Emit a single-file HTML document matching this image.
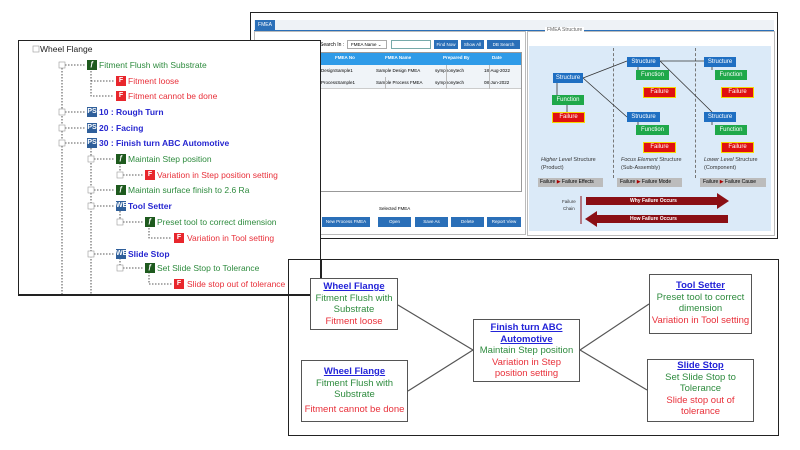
<!DOCTYPE html><html><head><meta charset="utf-8"><style>
*{margin:0;padding:0;box-sizing:border-box}
body{width:800px;height:450px;background:#fff;position:relative;overflow:hidden;font-family:"Liberation Sans",sans-serif}
.a{position:absolute;white-space:nowrap}
.t{font-size:8.5px;line-height:10px}
.g{color:#2e8b3e}.r{color:#e8303a}.b{color:#2626d0;font-weight:bold}
.ic{position:absolute;width:10px;height:10px;font-size:7px;color:#fff;text-align:center;line-height:10px;font-weight:bold}
.F{background:#e8262c}.P{background:#2f5f9a}.Fn{background:#1e5a1e}
.bt{position:absolute;background:#2a6fb8;color:#fff;font-size:4.5px;text-align:center;line-height:12px}
.sb{position:absolute;color:#fff;font-size:6px;text-align:center;line-height:10px}
.st{background:#1f6fc2}.fu{background:#1fa84a}.fa{background:#e01010;border:1.5px solid #f5d800;line-height:8px}
.nd{position:absolute;border:1.5px solid #555;background:#fff;text-align:center;font-size:9.5px;line-height:11.5px;white-space:nowrap;overflow:hidden}
.nd u{color:#2323d8;font-weight:bold}
</style></head><body>
<!-- top right app -->
<div class="a" style="left:250px;top:12px;width:528px;height:227px;border:1.5px solid #222;background:#fff"></div>
<div class="a" style="left:254px;top:20px;width:520px;height:11px;background:#eef2f6;border-bottom:1px solid #2a6fb8"></div>
<div class="a" style="left:255px;top:20px;width:20px;height:11px;background:#2a6fb8;color:#fff;font-size:5px;line-height:11px;text-align:center">FMEA</div>
<div class="a" style="left:254px;top:31px;width:272px;height:204px;border:1px solid #bbb"></div>
<div class="a" style="left:320px;top:42px;font-size:5px">Search In : </div>
<div class="a" style="left:347px;top:40px;width:40px;height:9px;border:1px solid #aaa;font-size:4.5px;line-height:8px;padding-left:3px">FMEA Name ⌄</div>
<div class="a" style="left:391px;top:40px;width:40px;height:9px;border:1px solid #7aa"></div>
<div class="bt" style="left:434px;top:40px;width:24px;height:9px;line-height:9px">Find Now</div>
<div class="bt" style="left:461px;top:40px;width:23px;height:9px;line-height:9px">Show All</div>
<div class="bt" style="left:487px;top:40px;width:33px;height:9px;line-height:9px">DB Search</div>
<div class="a" style="left:320px;top:52px;width:202px;height:13px;background:#2f9be8"></div>
<div class="a" style="left:320px;top:65px;width:202px;height:24px;background:#f0f4f8;border-bottom:1px solid #ccc"></div>
<div class="a" style="left:320px;top:52px;width:202px;height:140px;border:1px solid #999"></div>
<div class="a" style="left:320px;top:55px;font-size:4.5px;color:#fff;font-weight:bold;width:202px">
<span class="a" style="left:15px">FMEA No</span><span class="a" style="left:65px">FMEA Name</span><span class="a" style="left:123px">Prepared By</span><span class="a" style="left:172px">Date</span></div>
<div class="a" style="left:320px;top:68px;font-size:4.5px;width:202px"><span class="a" style="left:1px">DesignSample1</span><span class="a" style="left:56px">Sample Design FMEA</span><span class="a" style="left:115px">symphonytech</span><span class="a" style="left:164px">18-Aug-2022</span></div>
<div class="a" style="left:320px;top:80px;font-size:4.5px;width:202px"><span class="a" style="left:1px">ProcessSample1</span><span class="a" style="left:56px">Sample Process FMEA</span><span class="a" style="left:115px">symphonytech</span><span class="a" style="left:164px">08-Jun-2022</span></div>
<div class="a" style="left:385px;top:77px;width:1px;height:12px;background:#bbb"></div>
<div class="a" style="left:446px;top:65px;width:1px;height:24px;background:#bbb"></div>
<div class="a" style="left:489px;top:65px;width:1px;height:24px;background:#bbb"></div>
<div class="a" style="left:379px;top:206px;font-size:4.5px">Selected FMEA</div>
<div class="bt" style="left:322px;top:217px;width:48px;height:10px;line-height:10px">New Process FMEA</div>
<div class="bt" style="left:378px;top:217px;width:33px;height:10px;line-height:10px">Open</div>
<div class="bt" style="left:415px;top:217px;width:33px;height:10px;line-height:10px">Save As</div>
<div class="bt" style="left:451px;top:217px;width:33px;height:10px;line-height:10px">Delete</div>
<div class="bt" style="left:487px;top:217px;width:34px;height:10px;line-height:10px">Report View</div>
<!-- FMEA structure -->
<div class="a" style="left:527px;top:31px;width:248px;height:205px;border:1px solid #bbb"></div>
<div class="a" style="font-size:5px;color:#666;background:#fff;padding:0 2px;top:27px;left:545px">FMEA Structure</div>
<div class="a" style="left:529px;top:46px;width:242px;height:185px;background:#dbeaf8"></div>
<div class="a" style="left:613px;top:48px;height:130px;border-left:1px dashed #777"></div>
<div class="a" style="left:695px;top:48px;height:130px;border-left:1px dashed #777"></div>
<svg class="a" style="left:0;top:0" width="800" height="450"><g stroke="#333" stroke-width="0.8"><line x1="583" y1="78" x2="627" y2="61"/><line x1="583" y1="78" x2="627" y2="117"/><line x1="660" y1="61" x2="704" y2="61"/><line x1="660" y1="61" x2="712" y2="112"/>
<line x1="557" y1="83" x2="557" y2="95"/><line x1="567" y1="104" x2="567" y2="112"/><line x1="638" y1="66" x2="638" y2="70"/><line x1="638" y1="122" x2="638" y2="125"/><line x1="712" y1="66" x2="712" y2="70"/><line x1="712" y1="122" x2="712" y2="125"/></g>
<polygon points="586,197 717,197 717,193 729,201 717,209 717,205 586,205" fill="#8b0f14"/>
<polygon points="597,215 597,211 585,219 597,227 597,223 728,223 728,215" fill="#8b0f14"/>
<line x1="581" y1="196" x2="581" y2="224" stroke="#8b0f14" stroke-width="1"/></svg>
<div class="sb st" style="left:553px;top:73px;width:30px">Structure</div>
<div class="sb fu" style="left:552px;top:95px;width:32px">Function</div>
<div class="sb fa" style="left:552px;top:112px;width:33px;height:11px">Failure</div>
<div class="sb st" style="left:627px;top:57px;width:33px">Structure</div>
<div class="sb fu" style="left:636px;top:70px;width:33px">Function</div>
<div class="sb fa" style="left:643px;top:87px;width:33px;height:11px">Failure</div>
<div class="sb st" style="left:627px;top:112px;width:33px">Structure</div>
<div class="sb fu" style="left:636px;top:125px;width:33px">Function</div>
<div class="sb fa" style="left:643px;top:142px;width:33px;height:11px">Failure</div>
<div class="sb st" style="left:704px;top:57px;width:32px">Structure</div>
<div class="sb fu" style="left:715px;top:70px;width:32px">Function</div>
<div class="sb fa" style="left:721px;top:87px;width:33px;height:11px">Failure</div>
<div class="sb st" style="left:704px;top:112px;width:32px">Structure</div>
<div class="sb fu" style="left:715px;top:125px;width:32px">Function</div>
<div class="sb fa" style="left:721px;top:142px;width:33px;height:11px">Failure</div>
<div class="a" style="left:541px;top:156px;font-size:5.5px;line-height:8px;color:#333"><i>Higher Level</i> Structure<br>(Product)</div>
<div class="a" style="left:621px;top:156px;font-size:5.5px;line-height:8px;color:#333"><i>Focus Element</i> Structure<br>(Sub-Assembly)</div>
<div class="a" style="left:704px;top:156px;font-size:5.5px;line-height:8px;color:#333"><i>Lower Level</i> Structure<br>(Component)</div>
<div class="a" style="left:538px;top:178px;width:65px;height:9px;background:#bcbcbc;font-size:5px;line-height:9px;padding-left:2px">Failure <span style="color:#a00">▶</span> Failure Effects</div>
<div class="a" style="left:617px;top:178px;width:65px;height:9px;background:#bcbcbc;font-size:5px;line-height:9px;padding-left:3px">Failure <span style="color:#a00">▶</span> Failure Mode</div>
<div class="a" style="left:700px;top:178px;width:66px;height:9px;background:#bcbcbc;font-size:5px;line-height:9px;padding-left:3px">Failure <span style="color:#a00">▶</span> Failure Cause</div>
<div class="a" style="left:562px;top:198px;font-size:4.5px;line-height:7px;text-align:center;color:#333">Failure<br>Chain</div>
<div class="a" style="left:630px;top:198px;font-size:5px;color:#fff;font-weight:bold">Why Failure Occurs</div>
<div class="a" style="left:630px;top:216px;font-size:5px;color:#fff;font-weight:bold">How Failure Occurs</div>
<!-- tree panel -->
<div class="a" style="left:18px;top:40px;width:303px;height:256px;border:1.5px solid #222;background:#fff"></div>
<svg class="a" style="left:0;top:0" width="800" height="450"><g stroke="#222" stroke-width="0.8" stroke-dasharray="1.5,1.5" fill="none">
<path d="M62 68V294M91 148V294M120 163V175M120 211V222M120 258V268M62 65H86M62 112H86M62 128H86M62 143H86M91 68V96H114M91 81H114M91 159H114M91 190H114M91 206H114M91 254H114M120 175H143M120 222H143M120 268H143M149 225V238H172M149 272V284H172"/></g>
<g fill="#fff" stroke="#999" stroke-width="0.6"><rect x="33" y="46" width="6" height="6"/><rect x="59" y="62" width="6" height="6"/><rect x="59" y="109" width="6" height="6"/><rect x="59" y="125" width="6" height="6"/><rect x="59" y="140" width="6" height="6"/><rect x="88" y="156" width="6" height="6"/><rect x="117" y="172" width="6" height="6"/><rect x="88" y="187" width="6" height="6"/><rect x="88" y="203" width="6" height="6"/><rect x="117" y="219" width="6" height="6"/><rect x="88" y="251" width="6" height="6"/><rect x="117" y="265" width="6" height="6"/></g></svg>
<div class="a t" style="left:40px;top:44px;color:#222">Wheel Flange</div>
<div class="ic Fn" style="left:87px;top:60px">ƒ</div><div class="a t g" style="left:99px;top:60px">Fitment Flush with Substrate</div>
<div class="ic F" style="left:116px;top:76px">F</div><div class="a t r" style="left:128px;top:76px">Fitment loose</div>
<div class="ic F" style="left:116px;top:91px">F</div><div class="a t r" style="left:128px;top:91px">Fitment cannot be done</div>
<div class="ic P" style="left:87px;top:107px">PS</div><div class="a t b" style="left:99px;top:107px">10 : Rough Turn</div>
<div class="ic P" style="left:87px;top:123px">PS</div><div class="a t b" style="left:99px;top:123px">20 : Facing</div>
<div class="ic P" style="left:87px;top:138px">PS</div><div class="a t b" style="left:99px;top:138px">30 : Finish turn ABC Automotive</div>
<div class="ic Fn" style="left:116px;top:154px">ƒ</div><div class="a t g" style="left:128px;top:154px">Maintain Step position</div>
<div class="ic F" style="left:145px;top:170px">F</div><div class="a t r" style="left:157px;top:170px">Variation in Step position setting</div>
<div class="ic Fn" style="left:116px;top:185px">ƒ</div><div class="a t g" style="left:128px;top:185px">Maintain surface finish to 2.6 Ra</div>
<div class="ic P" style="left:116px;top:201px">WE</div><div class="a t b" style="left:128px;top:201px">Tool Setter</div>
<div class="ic Fn" style="left:145px;top:217px">ƒ</div><div class="a t g" style="left:157px;top:217px">Preset tool to correct dimension</div>
<div class="ic F" style="left:174px;top:233px">F</div><div class="a t r" style="left:187px;top:233px">Variation in Tool setting</div>
<div class="ic P" style="left:116px;top:249px">WE</div><div class="a t b" style="left:128px;top:249px">Slide Stop</div>
<div class="ic Fn" style="left:145px;top:263px">ƒ</div><div class="a t g" style="left:157px;top:263px">Set Slide Stop to Tolerance</div>
<div class="ic F" style="left:174px;top:279px">F</div><div class="a t r" style="left:187px;top:279px">Slide stop out of tolerance</div>
<!-- bottom diagram -->
<div class="a" style="left:288px;top:259px;width:491px;height:177px;border:1.5px solid #222;background:#fff"></div>
<div class="a" style="left:18px;top:294px;width:304px;height:2px;background:#222"></div>
<div class="a" style="left:320px;top:259px;width:2px;height:36px;background:#222"></div>
<div class="a" style="left:289px;top:260px;width:31px;height:34px;background:#fff"></div>
<svg class="a" style="left:0;top:0" width="800" height="450"><g stroke="#555" stroke-width="1.2"><line x1="398" y1="305" x2="473" y2="350"/><line x1="408" y1="391" x2="473" y2="350"/><line x1="580" y1="350" x2="649" y2="304"/><line x1="580" y1="350" x2="647" y2="390"/></g></svg>
<div class="nd" style="left:310px;top:278px;width:88px;height:52px;padding-top:2px"><u>Wheel Flange</u><br><span class="g">Fitment Flush with<br>Substrate</span><br><span class="r">Fitment loose</span></div>
<div class="nd" style="left:301px;top:360px;width:107px;height:62px;padding-top:5px"><u>Wheel Flange</u><br><span class="g">Fitment Flush with<br>Substrate</span><br><span class="r" style="display:block;margin-top:3px">Fitment cannot be done</span></div>
<div class="nd" style="left:473px;top:319px;width:107px;height:63px;padding-top:2px"><u>Finish turn ABC<br>Automotive</u><br><span class="g">Maintain Step position</span><br><span class="r">Variation in Step<br>position setting</span></div>
<div class="nd" style="left:649px;top:274px;width:103px;height:60px;padding-top:5px"><u>Tool Setter</u><br><span class="g">Preset tool to correct<br>dimension</span><br><span class="r">Variation in Tool setting</span></div>
<div class="nd" style="left:647px;top:359px;width:107px;height:63px;padding-top:0px"><u>Slide Stop</u><br><span class="g">Set Slide Stop to<br>Tolerance</span><br><span class="r">Slide stop out of<br>tolerance</span></div>
</body></html>
